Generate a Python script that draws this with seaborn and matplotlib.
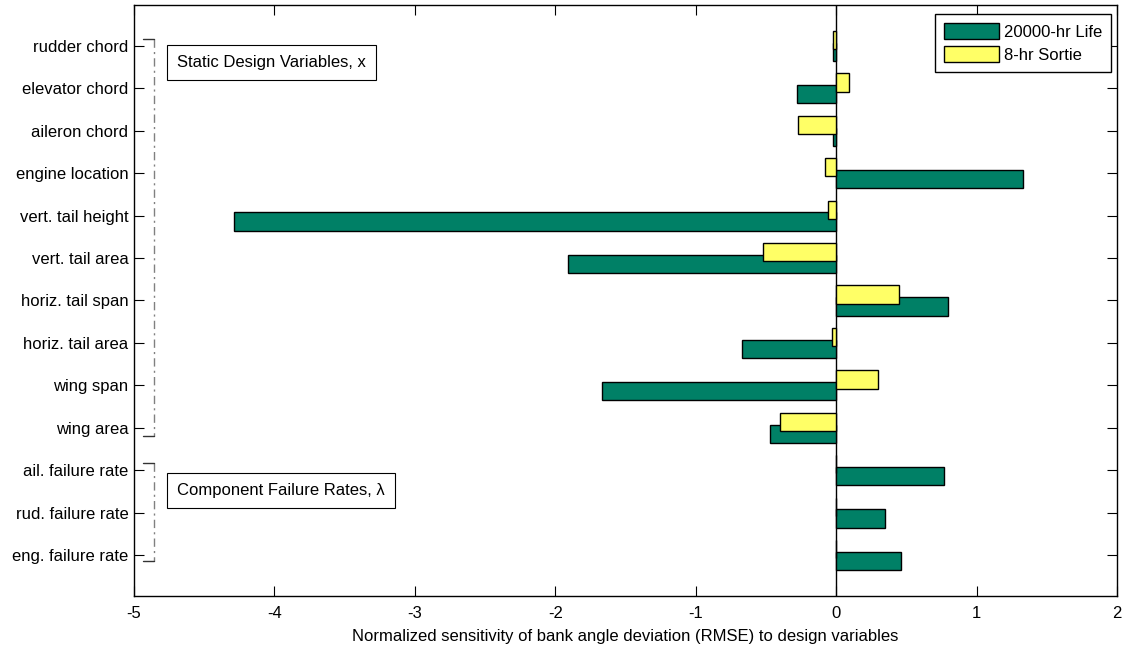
import matplotlib
matplotlib.use("Agg")
import matplotlib.pyplot as plt
import seaborn as sns
import pandas as pd
from matplotlib.patches import Patch

categories = ["rudder chord", "elevator chord", "aileron chord", "engine location",
              "vert. tail height", "vert. tail area", "horiz. tail span", "horiz. tail area",
              "wing span", "wing area", "ail. failure rate", "rud. failure rate",
              "eng. failure rate"]
life_20000hr = [-0.02, -0.28, -0.02, 1.33, -4.29, -1.91, 0.80, -0.67, -1.67, -0.47, 0.77, 0.35, 0.46]
sortie_8hr = [-0.02, 0.09, -0.27, -0.08, -0.06, -0.52, 0.45, -0.03, 0.30, -0.40, 0.0, 0.0, 0.0]
series_names = ["20000-hr Life", "8-hr Sortie"]
series_colors = ["#008066", "#ffff66"]
x_ticks = [-5, -4, -3, -2, -1, 0, 1, 2]
x_label = "Normalized sensitivity of bank angle deviation (RMSE) to design variables"
group_labels = ["Static Design Variables, x", "Component Failure Rates, \u03bb"]

sns.set_style("white")
plt.rcParams["font.family"] = ["Liberation Sans", "DejaVu Sans"]
plt.rcParams["font.size"] = 12
for key in ["text.color", "axes.labelcolor", "xtick.color", "ytick.color"]:
    plt.rcParams[key] = "black"

df = pd.DataFrame({
    "category": categories * 2,
    "series": [series_names[0]] * len(categories) + [series_names[1]] * len(categories),
    "value": life_20000hr + sortie_8hr,
})

fig = plt.figure(figsize=(11.25, 6.45), dpi=100)
ax = fig.add_axes([134 / 1125, 49 / 645, (1117 - 134) / 1125, (596 - 5) / 645])

hue_order = [series_names[1], series_names[0]]
palette = {series_names[0]: series_colors[0], series_names[1]: series_colors[1]}
sns.barplot(data=df, x="value", y="category", hue="series", order=categories,
            hue_order=hue_order, palette=palette, orient="y", width=0.56, gap=-0.536,
            edgecolor="black", linewidth=1.0, saturation=1, legend=False, ax=ax)

# yellow drawn on top of green
for patch in ax.containers[0]:
    patch.set_zorder(3)
for patch in ax.containers[1]:
    patch.set_zorder(2)

ax.axvline(0, color="black", lw=1.0, zorder=1.5)

ax.set_xlim(-5, 2)
ax.set_ylim(12.965, -0.965)
ax.set_xticks(x_ticks)
ax.set_xticklabels([str(t) for t in x_ticks])
ax.set_xlabel(x_label, fontsize=12, labelpad=6)
ax.set_ylabel("")
ax.tick_params(axis="both", direction="in", length=7.5, width=0.8, color="black",
               labelcolor="black", top=True, right=True, bottom=True, left=True, labelsize=12)
ax.tick_params(axis="y", pad=4)
ax.tick_params(axis="x", pad=7)
for sp in ax.spines.values():
    sp.set_visible(True)
    sp.set_color("black")
    sp.set_linewidth(1.0)

# group brackets
bx, arm = -4.857, -4.935
for top, bot in [(-0.153, 9.19), (9.83, 12.14)]:
    ax.plot([bx, bx], [top, bot], color="#808080", lw=1.0, ls="-.", dashes=(6, 3, 1.5, 3),
            zorder=4, clip_on=False)
    ax.plot([arm, bx], [top, top], color="#333333", lw=1.0, zorder=4, clip_on=False)
    ax.plot([arm, bx], [bot, bot], color="#333333", lw=1.0, zorder=4, clip_on=False)

box_style = dict(boxstyle="square,pad=0.6", fc="white", ec="black", lw=0.8)
ax.text(-4.695, 0.38, group_labels[0], fontsize=12, va="center", ha="left",
        color="black", bbox=box_style, zorder=5)
ax.text(-4.695, 10.48, group_labels[1], fontsize=12, va="center", ha="left",
        color="black", bbox=box_style, zorder=5)

handles = [Patch(facecolor=series_colors[0], edgecolor="black", lw=1.0),
           Patch(facecolor=series_colors[1], edgecolor="black", lw=1.0)]
leg = ax.legend(handles, series_names, loc="upper right", bbox_to_anchor=(0.994, 0.985),
                fontsize=12, frameon=True, fancybox=False, framealpha=1, edgecolor="black",
                handlelength=3.3, handleheight=1.1, labelspacing=0.4, handletextpad=0.3,
                borderpad=0.55, borderaxespad=0)
for t in leg.get_texts():
    t.set_color("black")
leg.get_frame().set_linewidth(1.0)
leg.set_zorder(6)

fig.savefig("out.png", dpi=100)
